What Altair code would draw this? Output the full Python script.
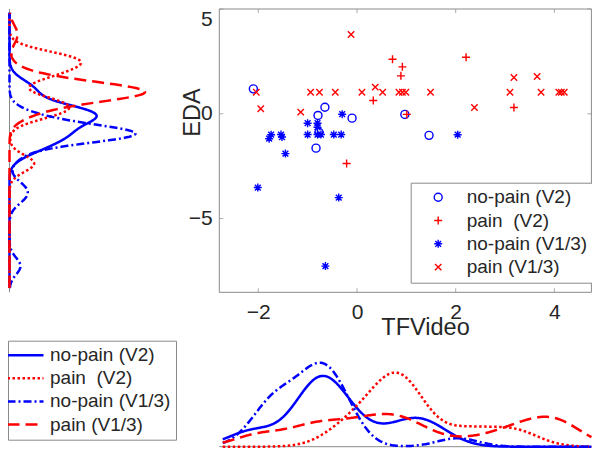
import altair as alt
import pandas as pd

# ---------------- data ----------------
GROUPS = ["no-pain (V2)", "pain\u00a0 (V2)", "no-pain (V1/3)", "pain (V1/3)"]

npv2_x = [-2.10, -0.65, -0.79, -0.10, 0.97, 1.46, -0.83, -0.77]
npv2_y = [1.19, 0.31, -0.08, -0.21, -0.03, -1.03, -1.64, -0.88]

pv2_x = [0.72, 2.21, 0.92, 0.89, 0.33, 1.01, -0.21, 3.18]
pv2_y = [2.60, 2.70, 2.24, 1.81, 0.63, -0.03, -2.37, 0.30]

np13_x = [-0.30, -1.00, -0.80, -0.80, -1.00, -0.80, -0.73, -0.47, -0.32,
          -1.74, -1.78, -1.54, -1.52, -1.45, -2.01, -0.37, -0.64, 2.04]
np13_y = [-0.02, -0.45, -0.45, -0.64, -0.99, -0.99, -0.99, -0.99, -0.99,
          -1.00, -1.19, -0.99, -1.11, -1.90, -3.52, -4.00, -7.27, -1.00]

p13_x = [-0.12, -2.04, -1.95, -1.14, -0.94, -0.76, -0.44, 0.10, 0.37, 0.52, 0.85,
         0.92, 0.99, 1.49, 2.38, 3.10, 3.18, 3.65, 3.73, 4.09, 4.14, 4.20]
p13_y = [3.78, 1.03, 0.24, 0.08, 1.03, 1.03, 1.03, 1.03, 1.27, 1.03, 1.03,
         1.03, 1.03, 1.03, 0.30, 1.03, 1.73, 1.78, 1.03, 1.03, 1.03, 1.03]

X_TICKS = [-2, 0, 2, 4]
Y_TICKS = [-5, 0, 5]
X_DOMAIN = [-2.79, 4.75]
Y_DOMAIN = [-8.52, 5.0]

# kernel bandwidths for the marginal densities (x: bottom, y: left)
BW_X = [0.50, 0.50, 0.42, 0.50]
BW_Y = [0.45, 0.40, 0.40, 0.45]
X_EXT = [-2.72, 4.75]
Y_EXT = [-8.32, 4.82]

# ---------------- styles / panel placement (pixels inside the 584x441 chart) ----------------
COLORS = ["#0000ff", "#ff0000", "#0000ff", "#ff0000"]
SHAPES = [
    "circle",
    "M -1 0 L 1 0 M 0 -1 L 0 1",
    "M -1 0 L 1 0 M 0 -1 L 0 1 M -0.72 -0.72 L 0.72 0.72 M -0.72 0.72 L 0.72 -0.72",
    "M -0.8 -0.8 L 0.8 0.8 M -0.8 0.8 L 0.8 -0.8",
]
DASHES = [[1, 0], [2.5, 2.5], [8, 3, 2, 3], [12, 6]]
GRAY = "#8a8a8a"
INK = "#262626"
FONT = "Liberation Sans"

CW, CH = 584, 441
SX = [211.3, 583.4]     # scatter x pixel range
SY = [284.3, 1.0]       # scatter y pixel range (bottom, top)
LX = [1.5, 137.0]       # left marginal density range
BY = [438.7, 354.7]     # bottom marginal density range

rows = []
for g, xs_, ys_ in zip(GROUPS, [npv2_x, pv2_x, np13_x, p13_x], [npv2_y, pv2_y, np13_y, p13_y]):
    for a, b in zip(xs_, ys_):
        rows.append({"group": g, "x": a, "y": b})
df = pd.DataFrame(rows)
one = pd.DataFrame({"z": [0]})

xs = alt.Scale(domain=X_DOMAIN, nice=False, zero=False, range=SX)
ys = alt.Scale(domain=Y_DOMAIN, nice=False, zero=False, range=SY)

# ---------------- scatter ----------------
leg1 = alt.Legend(title=None, orient="none", legendX=402.7, legendY=174.7, direction="vertical",
                  padding=5, strokeColor=GRAY, fillColor="white", symbolSize=64,
                  symbolStrokeWidth=1.4, symbolOffset=13, labelOffset=19, labelFontSize=19,
                  labelFont=FONT, labelColor=INK, rowPadding=3.3, labelLimit=400)

x_axis = alt.Axis(values=X_TICKS, title="TFVideo", orient="bottom", offset=SY[0] - CH, grid=False,
                  ticks=False, tickSize=0, domain=False, labelPadding=9, labelFontSize=21,
                  labelColor=INK, labelFlush=False, titleFontSize=23.5, titleFontWeight="normal",
                  titleColor=INK, titleX=417, titleY=42, titleBaseline="alphabetic",
                  titleAlign="center")
y_axis = alt.Axis(values=Y_TICKS, title="EDA", orient="left", offset=-SX[0], grid=False,
                  ticks=False, tickSize=0, domain=False, labelPadding=7, labelFontSize=21,
                  labelColor=INK, labelFlush=True, labelFlushOffset=1, titleFontSize=23.5,
                  titleFontWeight="normal", titleColor=INK, titleX=-19.8, titleY=104,
                  titleBaseline="alphabetic", titleAlign="center", titleAngle=270)

box = alt.Chart(one).mark_rect(fillOpacity=0, stroke=GRAY, strokeWidth=1).encode(
    x=alt.X(datum=X_DOMAIN[0], type="quantitative", scale=xs, axis=x_axis),
    x2=alt.X2(datum=X_DOMAIN[1]),
    y=alt.Y(datum=Y_DOMAIN[0], type="quantitative", scale=ys, axis=y_axis),
    y2=alt.Y2(datum=Y_DOMAIN[1]),
)

pts = alt.Chart(df).mark_point(filled=False, size=64, strokeWidth=1.4, opacity=1).encode(
    x=alt.X("x:Q", scale=xs, axis=x_axis),
    y=alt.Y("y:Q", scale=ys, axis=y_axis),
    color=alt.Color("group:N", scale=alt.Scale(domain=GROUPS, range=COLORS), legend=leg1),
    shape=alt.Shape("group:N", scale=alt.Scale(domain=GROUPS, range=SHAPES), legend=leg1),
)

xt_df = pd.DataFrame({"x": X_TICKS})
yt_df = pd.DataFrame({"y": Y_TICKS})
tick_b = alt.Chart(xt_df).mark_tick(orient="vertical", size=4, thickness=1, color=GRAY, yOffset=-2).encode(
    x=alt.X("x:Q", scale=xs, axis=x_axis), y=alt.Y(datum=Y_DOMAIN[0], type="quantitative", scale=ys, axis=y_axis))
tick_t = alt.Chart(xt_df).mark_tick(orient="vertical", size=4, thickness=1, color=GRAY, yOffset=2).encode(
    x=alt.X("x:Q", scale=xs, axis=x_axis), y=alt.Y(datum=Y_DOMAIN[1], type="quantitative", scale=ys, axis=y_axis))
tick_l = alt.Chart(yt_df).mark_tick(orient="horizontal", size=4, thickness=1, color=GRAY, xOffset=2).encode(
    y=alt.Y("y:Q", scale=ys, axis=y_axis), x=alt.X(datum=X_DOMAIN[0], type="quantitative", scale=xs, axis=x_axis))
tick_r = alt.Chart(yt_df).mark_tick(orient="horizontal", size=4, thickness=1, color=GRAY, xOffset=-2).encode(
    y=alt.Y("y:Q", scale=ys, axis=y_axis), x=alt.X(datum=X_DOMAIN[1], type="quantitative", scale=xs, axis=x_axis))

scatter = alt.layer(box, pts, tick_b, tick_t, tick_l, tick_r)

# ---------------- left marginal (density of EDA) ----------------
lxs = alt.Scale(zero=True, nice=False, range=LX)
lys = alt.Scale(domain=Y_DOMAIN, nice=False, zero=False, range=SY)
left_layers = [
    alt.Chart(one).mark_rule(color=GRAY, strokeWidth=1).encode(
        x=alt.X(datum=0, type="quantitative", scale=lxs, axis=None),
        y=alt.Y(datum=Y_DOMAIN[1], type="quantitative", scale=lys, axis=None),
        y2=alt.Y2(datum=Y_DOMAIN[0]))
]
for g, c, d, bw in zip(GROUPS, COLORS, DASHES, BW_Y):
    left_layers.append(
        alt.Chart(df)
        .transform_filter(alt.datum.group == g)
        .transform_density("y", as_=["y", "density"], bandwidth=bw, extent=Y_EXT, steps=300)
        .mark_line(color=c, strokeDash=d, strokeWidth=2.5)
        .encode(
            x=alt.X("density:Q", scale=lxs, axis=None),
            y=alt.Y("y:Q", scale=lys, axis=None),
            order=alt.Order("y:Q"),
        )
    )
left = alt.layer(*left_layers)

# ---------------- bottom marginal (density of TFVideo) ----------------
leg2 = alt.Legend(title=None, orient="none", legendX=0, legendY=332.7, direction="vertical",
                  padding=5, strokeColor=GRAY, fillColor="white", symbolType="M -2.25 0 L 2.25 0",
                  symbolSize=256, symbolStrokeWidth=2.5, symbolOffset=3, labelOffset=15,
                  labelFontSize=19, labelFont=FONT, labelColor=INK, rowPadding=3.1, labelLimit=400)
bxs = alt.Scale(domain=X_DOMAIN, nice=False, zero=False, range=SX)
bys = alt.Scale(zero=True, nice=False, range=BY)
bot_layers = [
    alt.Chart(one).mark_rule(color=GRAY, strokeWidth=1).encode(
        y=alt.Y(datum=0, type="quantitative", scale=bys, axis=None),
        x=alt.X(datum=X_DOMAIN[0], type="quantitative", scale=bxs, axis=None),
        x2=alt.X2(datum=X_DOMAIN[1]))
]
for g, bw in zip(GROUPS, BW_X):
    bot_layers.append(
        alt.Chart(df)
        .transform_filter(alt.datum.group == g)
        .transform_density("x", as_=["x", "density"], bandwidth=bw, extent=X_EXT, steps=300,
                           groupby=["group"])
        .mark_line(strokeWidth=2.5)
        .encode(
            x=alt.X("x:Q", scale=bxs, axis=None),
            y=alt.Y("density:Q", scale=bys, axis=None),
            color=alt.Color("group:N", scale=alt.Scale(domain=GROUPS, range=COLORS), legend=leg2),
            strokeDash=alt.StrokeDash("group:N", scale=alt.Scale(domain=GROUPS, range=DASHES), legend=leg2),
        )
    )
bottom = alt.layer(*bot_layers)

chart = (
    alt.layer(scatter, left, bottom)
    .resolve_scale(x="independent", y="independent", color="independent",
                   shape="independent", strokeDash="independent")
    .properties(width=CW, height=CH, padding=0, autosize=alt.AutoSizeParams(type="none"))
    .configure_view(stroke=None)
    .configure_axis(labelFont=FONT, titleFont=FONT)
    .configure_legend(labelFont=FONT)
)

chart.save("out.html", embed_options={"renderer": "svg", "actions": False})
